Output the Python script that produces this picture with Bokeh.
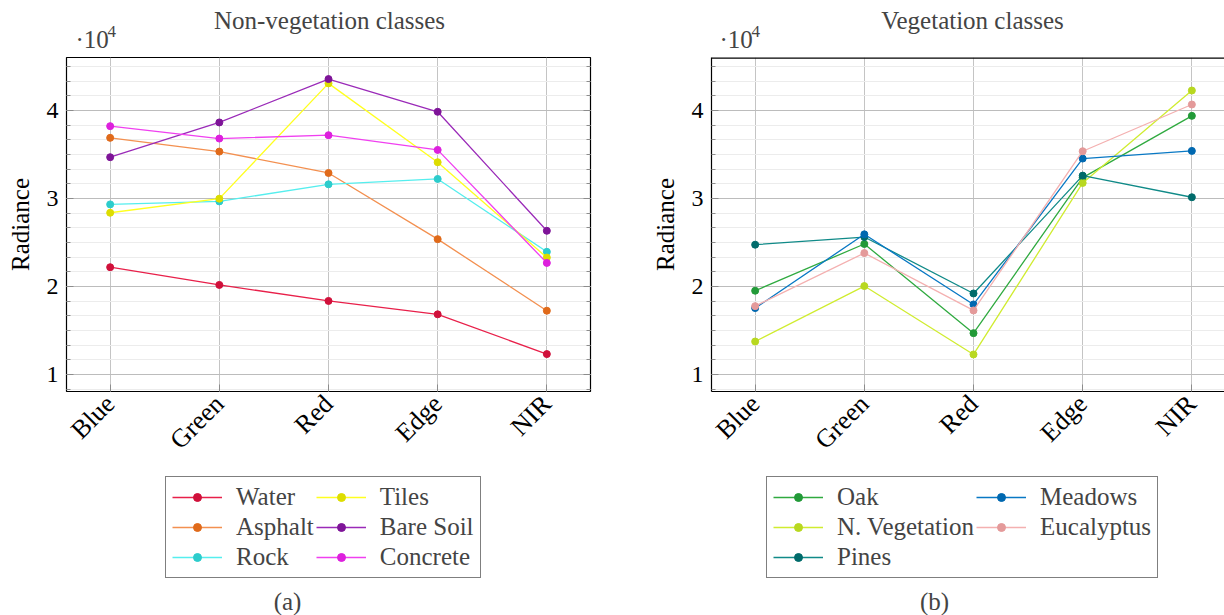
import math
from bokeh.plotting import figure
from bokeh.layouts import row, column
from bokeh.models import (Range1d, FixedTicker, SingleIntervalTicker, LinearAxis,
                          CustomJSTickFormatter, Legend, LegendItem, Label, Span)
from bokeh.embed import file_html
from bokeh.resources import INLINE

# ---------------- data ----------------
bands = ["Blue", "Green", "Red", "Edge", "NIR"]

water      = [22190, 20180, 18360, 16840, 12320]
asphalt    = [36890, 35330, 32900, 25380, 17250]
rock       = [29330, 29670, 31610, 32220, 23940]
tiles      = [28380, 29980, 43080, 34120, 23290]
bare_soil  = [34690, 38640, 43570, 39850, 26330]
concrete   = [38220, 36810, 37190, 35520, 22680]
nonveg_names = ["Water", "Asphalt", "Rock", "Tiles", "Bare Soil", "Concrete"]

oak        = [19520, 24830, 14700, 32370, 39390]
n_veg      = [13750, 20050, 12280, 31770, 42270]
pines      = [24750, 25620, 19210, 32600, 30140]
meadows    = [17550, 25930, 17960, 34540, 35410]
eucalyptus = [17770, 23800, 17280, 35370, 40680]
veg_names = ["Oak", "N. Vegetation", "Pines", "Meadows", "Eucalyptus"]

# ---------------- styles ----------------
nonveg_line = ["#e8204a", "#f39050", "#55eeee", "#ffff20", "#9a2ab8", "#f040f0"]
nonveg_mark = ["#d0103a", "#e06a1a", "#2ccccc", "#dddd00", "#7e1498", "#dd20dd"]
veg_line = ["#30aa40", "#d0ec30", "#108a88", "#0878c4", "#f4b0b0"]
veg_mark = ["#229a38", "#b8d820", "#006b6b", "#0068b0", "#e49a9a"]

FONT = "Liberation Serif"
FS = "25px"
YFS = "24px"
XFS = "26px"
Y0, Y1 = 8070, 46020
xs = list(range(len(bands)))

MB_BOTTOM = 80
H_HEAD, H_MAIN = 56, 1 + 334 + MB_BOTTOM
H_FOOT = 615 - H_HEAD - H_MAIN


def blank_fig(width, height, x0, x1):
    # frames are aligned with the chart frame in the column: x in page pixels
    f = figure(width=width, height=height, x_range=Range1d(x0, x1),
               y_range=Range1d(0, height), x_axis_type=None, y_axis_type=None,
               output_backend="svg", toolbar_location=None, min_border=0,
               outline_line_color=None, background_fill_color="white",
               border_fill_color="white")
    f.xgrid.visible = False
    f.ygrid.visible = False
    return f


def main_fig(series, lcol, mcol, x_end, width, mb_left, mb_right, full_box):
    p = figure(width=width, height=H_MAIN, x_range=Range1d(-0.4, x_end),
               y_range=Range1d(Y0, Y1), output_backend="svg",
               toolbar_location=None, min_border_left=mb_left,
               min_border_right=mb_right, min_border_top=1,
               min_border_bottom=MB_BOTTOM, background_fill_color="white",
               border_fill_color="white")
    p.title = None
    bottom = p.below[0]
    left = p.left[0]
    fmt = CustomJSTickFormatter(code="return (tick/10000).toFixed(0)")
    blank = CustomJSTickFormatter(code="return ''")
    yt = SingleIntervalTicker(interval=10000, num_minor_ticks=6)
    xt = FixedTicker(ticks=xs)
    bottom.ticker = xt
    bottom.major_label_overrides = {i: b for i, b in enumerate(bands)}
    bottom.major_label_orientation = math.pi / 4
    left.ticker = yt
    left.formatter = fmt
    p.ygrid.ticker = yt
    p.xgrid.ticker = xt

    axes = [bottom, left]
    if full_box:
        rt = LinearAxis(ticker=yt, formatter=blank)
        p.add_layout(rt, "right")
        axes.append(rt)
    for ax in axes:
        ax.major_tick_in = 7
        ax.major_tick_out = 0
        ax.minor_tick_in = 4
        ax.minor_tick_out = 0
        ax.major_tick_line_color = "#8c8c8c"
        ax.minor_tick_line_color = "#8c8c8c"
        ax.major_label_text_font = FONT
        ax.major_label_text_font_size = YFS
        ax.major_label_text_color = "black"
        ax.axis_label_text_font = FONT
        ax.axis_label_text_font_size = FS
        ax.axis_label_text_font_style = "normal"
        ax.axis_label_text_color = "black"
    bottom.major_label_text_font_size = XFS
    bottom.minor_tick_in = 0
    left.major_label_standoff = 8
    left.axis_label = "Radiance"
    left.axis_label_standoff = 10
    bottom.major_label_standoff = 8

    if full_box:
        p.outline_line_color = "black"
        p.outline_line_width = 1.2
        for ax in axes:
            ax.axis_line_color = None
    else:
        p.outline_line_color = None
        for ax in axes:
            ax.axis_line_color = "black"
            ax.axis_line_width = 1.2
        p.add_layout(Span(location=Y1, dimension="width", line_color="black",
                          line_width=2.4))

    p.ygrid.grid_line_color = "#bcbcbc"
    p.ygrid.minor_grid_line_color = "#ececec"
    p.xgrid.grid_line_color = "#c4c4c4"

    for ys, lc, mc in zip(series, lcol, mcol):
        p.line(xs, ys, line_color=lc, line_width=1.3)
        p.scatter(xs, ys, size=7, fill_color=mc, line_color=mc)
    return p


def header(width, x0, x1, title, title_x, exp_x):
    h = blank_fig(width, H_HEAD, x0, x1)
    h.add_layout(Label(x=title_x, y=36, text=title, text_align="center",
                       text_baseline="middle", text_font=FONT,
                       text_font_size=FS))
    h.add_layout(Label(x=exp_x, y=17, text="·10", text_align="left",
                       text_baseline="middle", text_font=FONT,
                       text_font_size=FS))
    h.add_layout(Label(x=exp_x + 32, y=25, text="4", text_align="left",
                       text_baseline="middle", text_font=FONT,
                       text_font_size="17px"))
    return h


def footer(width, x0, x1, names, lcol, mcol, legend_x, caption, caption_x):
    f = blank_fig(width, H_FOOT, x0, x1)
    items = []
    # legend proxies placed outside the visible range
    for name, lc, mc in zip(names, lcol, mcol):
        lr = f.line([x0 - 50, x0 - 40], [-50, -40], line_color=lc, line_width=1.3)
        sr = f.scatter([x0 - 50], [-50], size=7, fill_color=mc, line_color=mc)
        items.append(LegendItem(label=name, renderers=[lr, sr]))
    leg = Legend(items=items, location=(legend_x, 37), orientation="vertical",
                 nrows=3, border_line_color="black", border_line_width=1.2,
                 background_fill_alpha=1.0, padding=6, spacing=2,
                 label_standoff=14, glyph_width=50, glyph_height=20,
                 label_height=20, label_text_font=FONT,
                 label_text_font_size=FS, margin=0)
    f.add_layout(leg, "center")
    f.add_layout(Label(x=caption_x, y=14, text=caption, text_align="center",
                       text_baseline="middle", text_font=FONT,
                       text_font_size=FS))
    return f


W1, W2 = 620, 604
left_col = column(
    header(W1, 66, 590, "Non-vegetation classes", 329, 75),
    main_fig([water, asphalt, rock, tiles, bare_soil, concrete],
             nonveg_line, nonveg_mark, 4.4, W1, 66, 30, True),
    footer(W1, 66, 590, nonveg_names, nonveg_line, nonveg_mark, 99, "(a)", 287),
    spacing=0)
right_col = column(
    header(W2, 711, 1224, "Vegetation classes", 972, 719),
    main_fig([oak, n_veg, pines, meadows, eucalyptus],
             veg_line, veg_mark, 4.299, W2, 91, 0, False),
    footer(W2, 711, 1224, veg_names, veg_line, veg_mark, 55, "(b)", 934),
    spacing=0)

layout = row(left_col, right_col, spacing=0)
open("out.html", "w").write(file_html(layout, INLINE))
